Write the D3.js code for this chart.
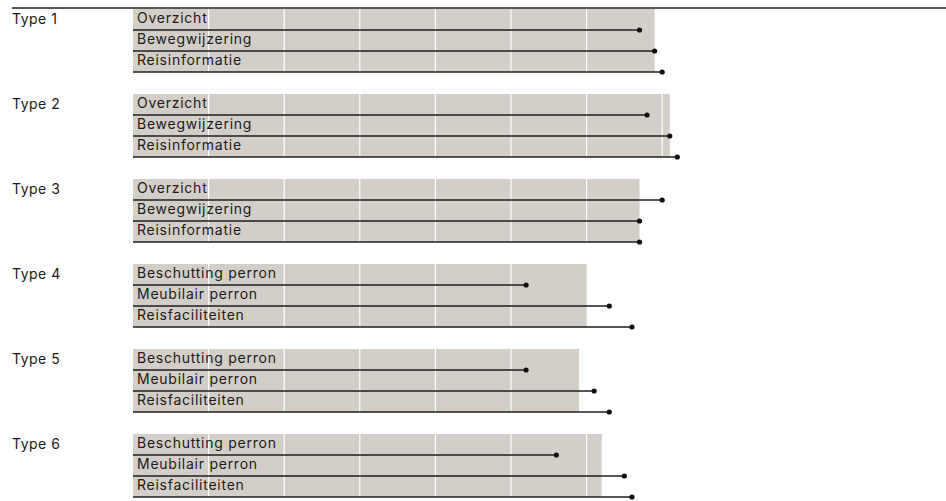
<!DOCTYPE html>
<html>
<head>
<meta charset="utf-8">
<script src="https://cdn.jsdelivr.net/npm/d3@7"></script>
<style>
  body { margin: 0; background: #fff; }
  text { font-family: Inter, "Noto Sans", sans-serif; font-size: 14px; letter-spacing: 0.5px; fill: #1a1a1a; }
  .row text { letter-spacing: 0.75px; }
</style>
</head>
<body>
<div id="wrapper"></div>
<script>
// data
const types = ["Type 1", "Type 2", "Type 3", "Type 4", "Type 5", "Type 6"]
const labelsStation = ["Overzicht", "Bewegwijzering", "Reisinformatie"]
const labelsPerron = ["Beschutting perron", "Meubilair perron", "Reisfaciliteiten"]
const rowLabels = [labelsStation, labelsStation, labelsStation, labelsPerron, labelsPerron, labelsPerron]
const scores = [
  [6.7, 6.9, 7.0],
  [6.8, 7.1, 7.2],
  [7.0, 6.7, 6.7],
  [5.2, 6.3, 6.6],
  [5.2, 6.1, 6.3],
  [5.6, 6.5, 6.6],
]
const totals = [6.9, 7.1, 6.7, 6.0, 5.9, 6.2]

const dimensions = {
  width: 946,
  height: 501,
  margin: { top: 9, left: 133 },
  groupGap: 22,
  groupHeight: 63,
}

const xScale = d3.scaleLinear()
  .domain([0, 10])
  .range([dimensions.margin.left, dimensions.margin.left + 756])

const yScale = d3.scaleBand()
  .domain(types)
  .range([dimensions.margin.top, dimensions.margin.top + 85 * types.length - dimensions.groupGap])
  .paddingInner(dimensions.groupGap / 85)
  .paddingOuter(0)

const rowScale = d3.scaleBand()
  .domain([0, 1, 2])
  .range([0, yScale.bandwidth()])

const svg = d3.select("#wrapper")
  .append("svg")
  .attr("width", dimensions.width)
  .attr("height", dimensions.height)

// top rule
svg.append("line")
  .attr("x1", 12)
  .attr("x2", dimensions.width)
  .attr("y1", dimensions.margin.top - 1)
  .attr("y2", dimensions.margin.top - 1)
  .attr("stroke", "#1e1e1e")
  .attr("stroke-width", 1.5)

const groups = svg.selectAll(".group")
  .data(types)
  .join("g")
  .attr("class", "group")
  .attr("transform", d => `translate(0,${yScale(d)})`)

// background bar
groups.append("rect")
  .attr("x", xScale(0))
  .attr("y", 0)
  .attr("width", (d, i) => xScale(totals[i]) - xScale(0))
  .attr("height", yScale.bandwidth())
  .attr("fill", "#d3cec7")

// white grid lines inside the bar
groups.each(function(d, i) {
  const ticks = xScale.ticks(10).filter(t => t > 0 && t < totals[i])
  d3.select(this).selectAll(".grid")
    .data(ticks)
    .join("line")
    .attr("class", "grid")
    .attr("x1", t => xScale(t))
    .attr("x2", t => xScale(t))
    .attr("y1", 0)
    .attr("y2", yScale.bandwidth())
    .attr("stroke", "#fff")
    .attr("stroke-width", 1.2)
})

// group label
groups.append("text")
  .attr("x", 12)
  .attr("y", 14.5)
  .text(d => d)

// rows
groups.each(function(d, i) {
  const g = d3.select(this)
  const rows = g.selectAll(".row")
    .data(scores[i])
    .join("g")
    .attr("class", "row")
    .attr("transform", (v, j) => `translate(0,${rowScale(j)})`)

  rows.append("text")
    .attr("x", xScale(0) + 4)
    .attr("y", 14)
    .text((v, j) => rowLabels[i][j])

  rows.append("line")
    .attr("x1", xScale(0))
    .attr("x2", v => xScale(v))
    .attr("y1", rowScale.bandwidth())
    .attr("y2", rowScale.bandwidth())
    .attr("stroke", "#1e1e1e")
    .attr("stroke-width", 1.5)

  rows.append("circle")
    .attr("cx", v => xScale(v))
    .attr("cy", rowScale.bandwidth())
    .attr("r", 2.6)
    .attr("fill", "#111")
})
</script>
</body>
</html>
